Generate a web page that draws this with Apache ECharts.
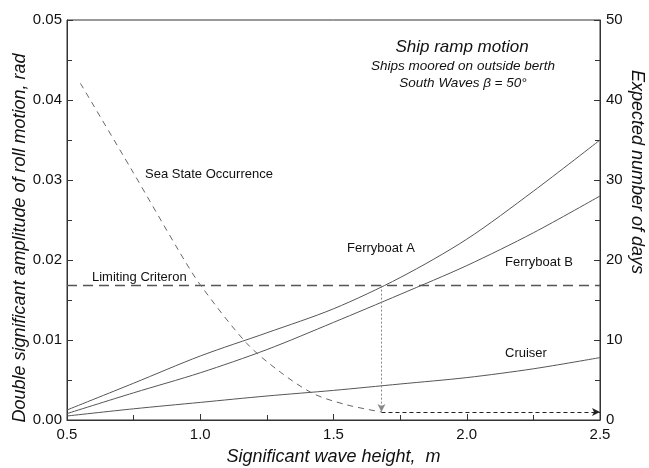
<!DOCTYPE html>
<html><head><meta charset="utf-8">
<script src="https://cdn.jsdelivr.net/npm/echarts@6/dist/echarts.min.js"></script>
<style>html,body{margin:0;padding:0;background:#fff}#c{width:649px;height:468px}</style>
</head><body><div id="c"></div>
<script>
// Data
const waveHeights = [0.5, 0.75, 1.0, 1.25, 1.5, 1.75, 2.0, 2.25, 2.5];
const ferryboatA = [0.00125, 0.0046, 0.0080, 0.0109, 0.0139, 0.0178, 0.0226, 0.0286, 0.035];
const ferryboatB = [0.0008, 0.0034, 0.0059, 0.0088, 0.0122, 0.0157, 0.0193, 0.0234, 0.028];
const cruiser = [0.0005, 0.0014, 0.0022, 0.0030, 0.0037, 0.0045, 0.0053, 0.0064, 0.0078];
const seaStateX = [0.55, 0.743, 0.924, 1.0, 1.174, 1.3, 1.424, 1.549, 1.68];
const seaStateDays = [42.1, 31.25, 20.9, 16.9, 9.6, 6.0, 3.3, 1.9, 1.0];
const limitingCriterion = 0.0168;
const limitX = [0.5, 2.5];
const thresholdHeight = 1.68;
const thresholdDays = 1.0;
const xTicks = [0.5, 2.5, 0.5];     // min, max, interval
const yLeftTicks = [0, 0.05, 0.01];
const yRightTicks = [0, 50, 10];

const chart = echarts.init(document.getElementById('c'), null, {renderer: 'canvas'});
const zip = (xs, ys) => xs.map((x, i) => [x, ys[i]]);
const FONT = 'Liberation Sans, Arial, sans-serif';
const axisCol = '#333';

const commonAxis = {
  axisLine: {show: true, lineStyle: {color: axisCol, width: 1}},
  axisTick: {show: true, inside: true, length: 6, lineStyle: {color: axisCol}},
  minorTick: {show: true, splitNumber: 2, length: 5, lineStyle: {color: axisCol}},
  splitLine: {show: false},
  axisLabel: {color: '#111', fontSize: 15, fontFamily: FONT},
  nameTextStyle: {color: '#111', fontSize: 18, fontStyle: 'italic', fontFamily: FONT}
};

const curveStyle = {smooth: 0.3, showSymbol: false};
const nameStyle = {fontSize: 18, fontStyle: 'italic', fontFamily: FONT, fill: '#111', align: 'center', verticalAlign: 'middle'};

chart.setOption({
  animation: false,
  grid: {left: 67, right: 49, top: 20, bottom: 48, show: true, borderColor: axisCol, borderWidth: 1,
         containLabel: false, outerBoundsMode: 'none'},
  xAxis: Object.assign({}, commonAxis, {
    type: 'value', min: xTicks[0], max: xTicks[1], interval: xTicks[2],
    name: 'Significant wave height,  m', nameLocation: 'middle', nameGap: 28,
    axisLabel: Object.assign({}, commonAxis.axisLabel, {margin: 7, formatter: v => v.toFixed(1)})
  }),
  yAxis: [
    Object.assign({}, commonAxis, {
      type: 'value', min: yLeftTicks[0], max: yLeftTicks[1], interval: yLeftTicks[2],
      axisLabel: Object.assign({}, commonAxis.axisLabel, {margin: 5, formatter: v => v.toFixed(2)})
    }),
    Object.assign({}, commonAxis, {
      type: 'value', min: yRightTicks[0], max: yRightTicks[1], interval: yRightTicks[2], position: 'right',
      axisLabel: Object.assign({}, commonAxis.axisLabel, {margin: 6})
    })
  ],
  series: [
    Object.assign({type: 'line', name: 'Ferryboat A', data: zip(waveHeights, ferryboatA),
      lineStyle: {color: '#555', width: 1}}, curveStyle),
    Object.assign({type: 'line', name: 'Ferryboat B', data: zip(waveHeights, ferryboatB),
      lineStyle: {color: '#555', width: 1}}, curveStyle),
    Object.assign({type: 'line', name: 'Cruiser', data: zip(waveHeights, cruiser),
      lineStyle: {color: '#555', width: 1}}, curveStyle),
    {type: 'line', name: 'Limiting Criteron', data: limitX.map(x => [x, limitingCriterion]), showSymbol: false,
     lineStyle: {color: '#555', width: 1.5, type: [10, 6]},
     markLine: {silent: true, symbol: ['none', 'arrow'], symbolSize: [6, 8], label: {show: false},
       lineStyle: {color: '#888', width: 1, type: [2, 2]},
       data: [[{coord: [thresholdHeight, limitingCriterion]}, {coord: [thresholdHeight, thresholdDays / 1000]}]]}},
    Object.assign({type: 'line', name: 'Sea State Occurrence', yAxisIndex: 1, data: zip(seaStateX, seaStateDays),
      lineStyle: {color: '#666', width: 1, type: [6, 5]},
      markLine: {silent: true, symbol: ['none', 'arrow'], symbolSize: [6, 8], label: {show: false},
        lineStyle: {color: '#222', width: 1, type: [4, 3]},
        data: [[{coord: [thresholdHeight, thresholdDays]}, {coord: [xTicks[1], thresholdDays]}]]}}, curveStyle)
  ],
  graphic: [
    {type: 'text', x: 20, y: 238, rotation: Math.PI / 2, style: Object.assign({text: 'Double significant amplitude of roll motion, rad'}, nameStyle)},
    {type: 'text', x: 637, y: 172, rotation: -Math.PI / 2, style: Object.assign({text: 'Expected number of days'}, nameStyle)},
    {type: 'text', x: 462, y: 47, style: {text: 'Ship ramp motion', fontSize: 17, fontStyle: 'italic', fontFamily: FONT, fill: '#111', align: 'center', verticalAlign: 'middle'}},
    {type: 'text', x: 463, y: 66, style: {text: 'Ships moored on outside berth', fontSize: 13.5, fontStyle: 'italic', fontFamily: FONT, fill: '#111', align: 'center', verticalAlign: 'middle'}},
    {type: 'text', x: 463, y: 83, style: {text: 'South Waves \u03B2 = 50\u00B0', fontSize: 13.5, fontStyle: 'italic', fontFamily: FONT, fill: '#111', align: 'center', verticalAlign: 'middle'}},
    {type: 'text', x: 145, y: 174, style: {text: 'Sea State Occurrence', fontSize: 13, fontFamily: FONT, fill: '#111', verticalAlign: 'middle'}},
    {type: 'text', x: 92, y: 277, style: {text: 'Limiting Criteron', fontSize: 13, fontFamily: FONT, fill: '#111', verticalAlign: 'middle'}},
    {type: 'text', x: 347, y: 248, style: {text: 'Ferryboat A', fontSize: 13, fontFamily: FONT, fill: '#111', verticalAlign: 'middle'}},
    {type: 'text', x: 505, y: 262, style: {text: 'Ferryboat B', fontSize: 13, fontFamily: FONT, fill: '#111', verticalAlign: 'middle'}},
    {type: 'text', x: 505, y: 353, style: {text: 'Cruiser', fontSize: 13, fontFamily: FONT, fill: '#111', verticalAlign: 'middle'}}
  ]
});
</script></body></html>
